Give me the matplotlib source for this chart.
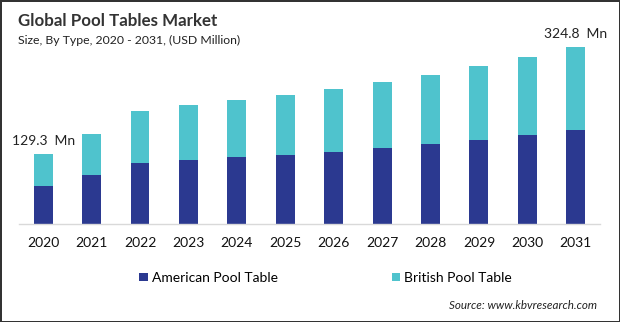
import matplotlib
matplotlib.use("Agg")
import matplotlib.pyplot as plt
import numpy as np

plt.rcParams['font.family'] = ['Lato', 'DejaVu Sans']

years = ["2020", "2021", "2022", "2023", "2024", "2025",
         "2026", "2027", "2028", "2029", "2030", "2031"]
american = [69.7, 89.9, 111.9, 117.4, 122.9, 126.6, 132.1, 139.5, 146.8, 154.1, 163.3, 172.5]
british = [59.6, 75.1, 95.1, 100.6, 105.1, 110.4, 115.9, 121.5, 127.2, 135.9, 142.7, 152.3]
labels = {0: "129.3  Mn", 11: "324.8  Mn"}

c_am = "#2b3990"
c_br = "#4fc3cd"

fig = plt.figure(figsize=(6.2, 3.22), dpi=100)
fig.patch.set_facecolor("white")
fig.patch.set_edgecolor("#333333")
fig.patch.set_linewidth(2)

ax = fig.add_axes([0.0306, 0.3043, 0.9371, 0.5715])
xs = np.arange(len(years))
b1 = ax.bar(xs, american, 0.39, color=c_am, label="American Pool Table")
b2 = ax.bar(xs, british, 0.39, bottom=american, color=c_br, label="British Pool Table")

# total labels on first and last bar
totals = np.array(american) + np.array(british)
for i, txt in labels.items():
    ax.annotate(txt, (xs[i], totals[i]), xytext=(0, 5), textcoords="offset points",
                ha="center", va="bottom", fontsize=10, color="#222222")

ax.set_xlim(-0.5, 11.5)
ax.set_ylim(0, 337.6)
ax.set_xticks(xs)
ax.set_xticklabels(years, fontsize=10, color="#111111")
ax.tick_params(axis="x", length=0, pad=9)
ax.set_yticks([])
for s in ["top", "right", "left"]:
    ax.spines[s].set_visible(False)
ax.spines["bottom"].set_color("#d9d9d9")
ax.spines["bottom"].set_linewidth(1)

fig.text(0.029, 0.935, "Global Pool Tables Market", fontsize=12.2, fontweight="bold",
         color="#333333", va="center")
fig.text(0.029, 0.875, "Size, By Type, 2020 - 2031, (USD Million)", fontsize=8.8,
         color="#222222", va="center")

fig.legend(handles=[b1, b2], loc="center", bbox_to_anchor=(0.525, 0.137), ncol=2,
           frameon=False, fontsize=10, handlelength=0.6, handleheight=0.6,
           handletextpad=0.3, columnspacing=8.2)

fig.text(0.963, 0.05, "Source: www.kbvresearch.com", fontsize=8.4, style="italic",
         color="#222222", ha="right", va="center")

fig.savefig("out.png", dpi=100, facecolor=fig.get_facecolor(), edgecolor=fig.get_edgecolor())
